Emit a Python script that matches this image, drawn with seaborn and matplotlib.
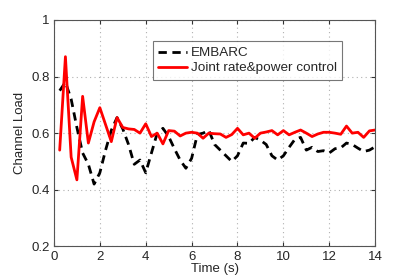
import numpy as np
import pandas as pd
import seaborn as sns
import matplotlib
import matplotlib.pyplot as plt

matplotlib.use("agg")

# time axis (s), sampled every 0.25 s
time_s = [0.25 * i for i in range(1, 57)]

embarc = [
    0.75, 0.78, 0.72, 0.62, 0.53, 0.49, 0.42, 0.46, 0.54, 0.61,
    0.655, 0.615, 0.56, 0.49, 0.505, 0.46, 0.53, 0.60, 0.617, 0.588,
    0.545, 0.505, 0.476, 0.511, 0.595, 0.60, 0.61, 0.56, 0.54, 0.52,
    0.50, 0.52, 0.565, 0.564, 0.585, 0.575, 0.56, 0.52, 0.505, 0.52,
    0.55, 0.578, 0.585, 0.54, 0.55, 0.535, 0.538, 0.53, 0.545, 0.548,
    0.565, 0.56, 0.547, 0.535, 0.54, 0.552,
]

joint = [
    0.54, 0.87, 0.515, 0.435, 0.73, 0.565, 0.64, 0.69, 0.63, 0.57,
    0.655, 0.62, 0.615, 0.613, 0.60, 0.633, 0.588, 0.60, 0.562, 0.609,
    0.607, 0.59, 0.60, 0.603, 0.60, 0.582, 0.60, 0.598, 0.597, 0.585,
    0.595, 0.617, 0.594, 0.60, 0.582, 0.60, 0.604, 0.609, 0.594, 0.609,
    0.594, 0.603, 0.611, 0.60, 0.588, 0.597, 0.603, 0.603, 0.60, 0.596,
    0.625, 0.60, 0.603, 0.585, 0.608, 0.611,
]

x_ticks = [0, 2, 4, 6, 8, 10, 12, 14]
y_ticks = [0.2, 0.4, 0.6, 0.8, 1.0]
y_tick_labels = ["0.2", "0.4", "0.6", "0.8", "1"]

df = pd.DataFrame({"t": time_s, "embarc": embarc, "joint": joint})

sns.set_style("white")
plt.rcParams["font.family"] = ["Liberation Sans", "DejaVu Sans"]

fig = plt.figure(figsize=(4.15, 2.8), dpi=100)
ax = fig.add_axes([0.130, 0.120, 0.774, 0.809])

sns.lineplot(data=df, x="t", y="embarc", ax=ax, color="black",
             linestyle=(0, (3, 2)), linewidth=2, label="EMBARC")
sns.lineplot(data=df, x="t", y="joint", ax=ax, color="#ff0000",
             linewidth=2, label="Joint rate&power control")

ax.set_xlim(0, 14)
ax.set_ylim(0.2, 1.0)
ax.set_xticks(x_ticks)
ax.set_yticks(y_ticks)
ax.set_yticklabels(y_tick_labels)
ax.set_xlabel("Time (s)", fontsize=9.5, labelpad=0)
ax.set_ylabel("Channel Load", fontsize=9.5, labelpad=4)

ax.grid(True, linestyle=(0, (1, 3)), color="#b0b0b0", linewidth=0.8)
ax.tick_params(direction="in", length=3, labelsize=9.5, top=True, right=True,
               bottom=True, left=True, color="#333333", pad=3)
for side in ax.spines.values():
    side.set_visible(True)
    side.set_color("#555555")
    side.set_linewidth(0.8)

leg = ax.legend(loc="upper left", bbox_to_anchor=(0.308, 0.905), fontsize=9.7,
                frameon=True, fancybox=False, handlelength=2.1,
                borderpad=0.4, labelspacing=0.2, handletextpad=0.3,
                borderaxespad=0)
leg.get_frame().set_edgecolor("#555555")
leg.get_frame().set_linewidth(0.8)

fig.savefig("out.png", dpi=100)
